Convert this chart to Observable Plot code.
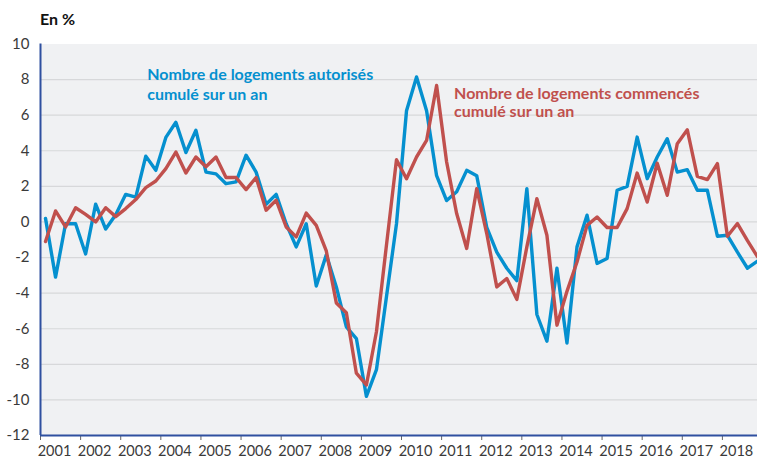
<!DOCTYPE html>
<html><head><meta charset="utf-8">
<script src="https://cdn.jsdelivr.net/npm/d3@7"></script>
<script src="https://cdn.jsdelivr.net/npm/@observablehq/plot@0.6"></script>
<style>
body{margin:0;background:#fff;}
#wrap{position:relative;width:757px;height:458px;font-family:Lato,sans-serif;}
#title{position:absolute;left:40px;top:9px;font-weight:bold;font-size:16px;color:#111;}
#chart{position:absolute;left:0;top:0;}
</style></head><body>
<div id="wrap"><div id="chart"></div><div id="title">En %</div></div>
<script>
// Quarterly series, 2001 Q1 -> 2018 Q4 (year-on-year change, cumulated over one year, %)
const firstYear = 2001;
const autorises = [
  0.2, -3.1, -0.1, -0.1, -1.8, 1.0, -0.4, 0.4, 1.55, 1.4, 3.7, 2.9,
  4.75, 5.6, 3.9, 5.15, 2.8, 2.7, 2.15, 2.25, 3.75, 2.8, 1.0, 1.55,
  -0.1, -1.4, -0.1, -3.6, -1.85, -3.65, -5.9, -6.55, -9.8, -8.3, -4.2, -0.1,
  6.25, 8.15, 6.25, 2.6, 1.2, 1.7, 2.9, 2.6, -0.3, -1.7, -2.6, -3.3,
  1.87, -5.2, -6.7, -2.6, -6.8, -1.4, 0.38, -2.33, -2.05, 1.78, 2.0, 4.77,
  2.43, 3.65, 4.68, 2.8, 2.94, 1.78, 1.78, -0.8, -0.75, -1.7, -2.6, -2.2
];
const commences = [
  -1.1, 0.62, -0.28, 0.8, 0.43, 0.0, 0.8, 0.3, 0.75, 1.26, 1.93, 2.3,
  3.0, 3.93, 2.75, 3.65, 3.1, 3.65, 2.5, 2.5, 1.82, 2.5, 0.66, 1.22,
  -0.28, -0.84, 0.5, -0.19, -1.63, -4.55, -5.1, -8.5, -9.16, -6.17, -1.3, 3.5,
  2.43, 3.65, 4.58, 7.67, 3.37, 0.47, -1.49, 1.87, -0.65, -3.65, -3.18, -4.35,
  -1.4, 1.31, -0.75, -5.8, -3.9, -2.25, -0.19, 0.28, -0.31, -0.31, 0.75, 2.75,
  1.12, 3.3, 1.5, 4.4, 5.18, 2.56, 2.38, 3.28, -0.8, -0.09, -1.05, -1.95
];
const yTicks = [-12, -10, -8, -6, -4, -2, 0, 2, 4, 6, 8, 10];
const xYears = [2001,2002,2003,2004,2005,2006,2007,2008,2009,2010,2011,2012,2013,2014,2015,2016,2017,2018];
const labelAutorises = "Nombre de logements autorisés\ncumulé sur un an";
const labelCommences = "Nombre de logements commencés\ncumulé sur un an";

const blue = "#0590cf";
const red = "#c0504d";
const axisBlue = "#2f50a0";

// time of each quarter = middle of the quarter
const toTime = i => firstYear + Math.floor(i / 4) + ((i % 4) + 0.5) / 4;
const dataA = autorises.map((v, i) => ({t: toTime(i), v}));
const dataC = commences.map((v, i) => ({t: toTime(i), v}));

const chart = Plot.plot({
  width: 757, height: 458,
  marginLeft: 40, marginRight: 0, marginTop: 43.5, marginBottom: 23,
  x: {domain: [2001, 2018.875]},
  y: {domain: [-12, 10]},
  style: {fontFamily: "Lato, sans-serif", fontSize: "14px", color: "#3a3a3a", background: "transparent"},
  marks: [
    Plot.frame({fill: "#f0f1f3", stroke: null}),
    Plot.ruleY(yTicks.filter(d => d > -12 && d < 10), {stroke: "#d7d8da", strokeWidth: 1.2}),
    Plot.axisY({ticks: yTicks, tickSize: 0, tickPadding: 11, tickFormat: d => String(d), label: null, fontSize: 15}),
    Plot.axisX({ticks: xYears, tickSize: 5, tickFormat: () => "", label: null, stroke: "#666"}),
    Plot.axisX({ticks: xYears, tickSize: 0, tickPadding: 10, dx: 14, tickFormat: d => String(d), label: null, fontSize: 14.5}),
    Plot.lineY(dataA, {x: "t", y: "v", stroke: blue, strokeWidth: 3.4}),
    Plot.lineY(dataC, {x: "t", y: "v", stroke: red, strokeWidth: 3.4}),
    Plot.ruleX([2001], {stroke: axisBlue, strokeWidth: 2}),
    Plot.ruleY([-12], {stroke: axisBlue, strokeWidth: 2}),
    Plot.text([labelAutorises], {x: 2003.66, y: 8.79, text: d => d, textAnchor: "start", lineAnchor: "top",
      fill: blue, fontWeight: "bold", fontSize: 16, lineHeight: 1.25}),
    Plot.text([labelCommences], {x: 2011.31, y: 7.67, text: d => d, textAnchor: "start", lineAnchor: "top",
      fill: red, fontWeight: "bold", fontSize: 16, lineHeight: 1.15})
  ]
});
document.getElementById("chart").appendChild(chart);
</script>
</body></html>
